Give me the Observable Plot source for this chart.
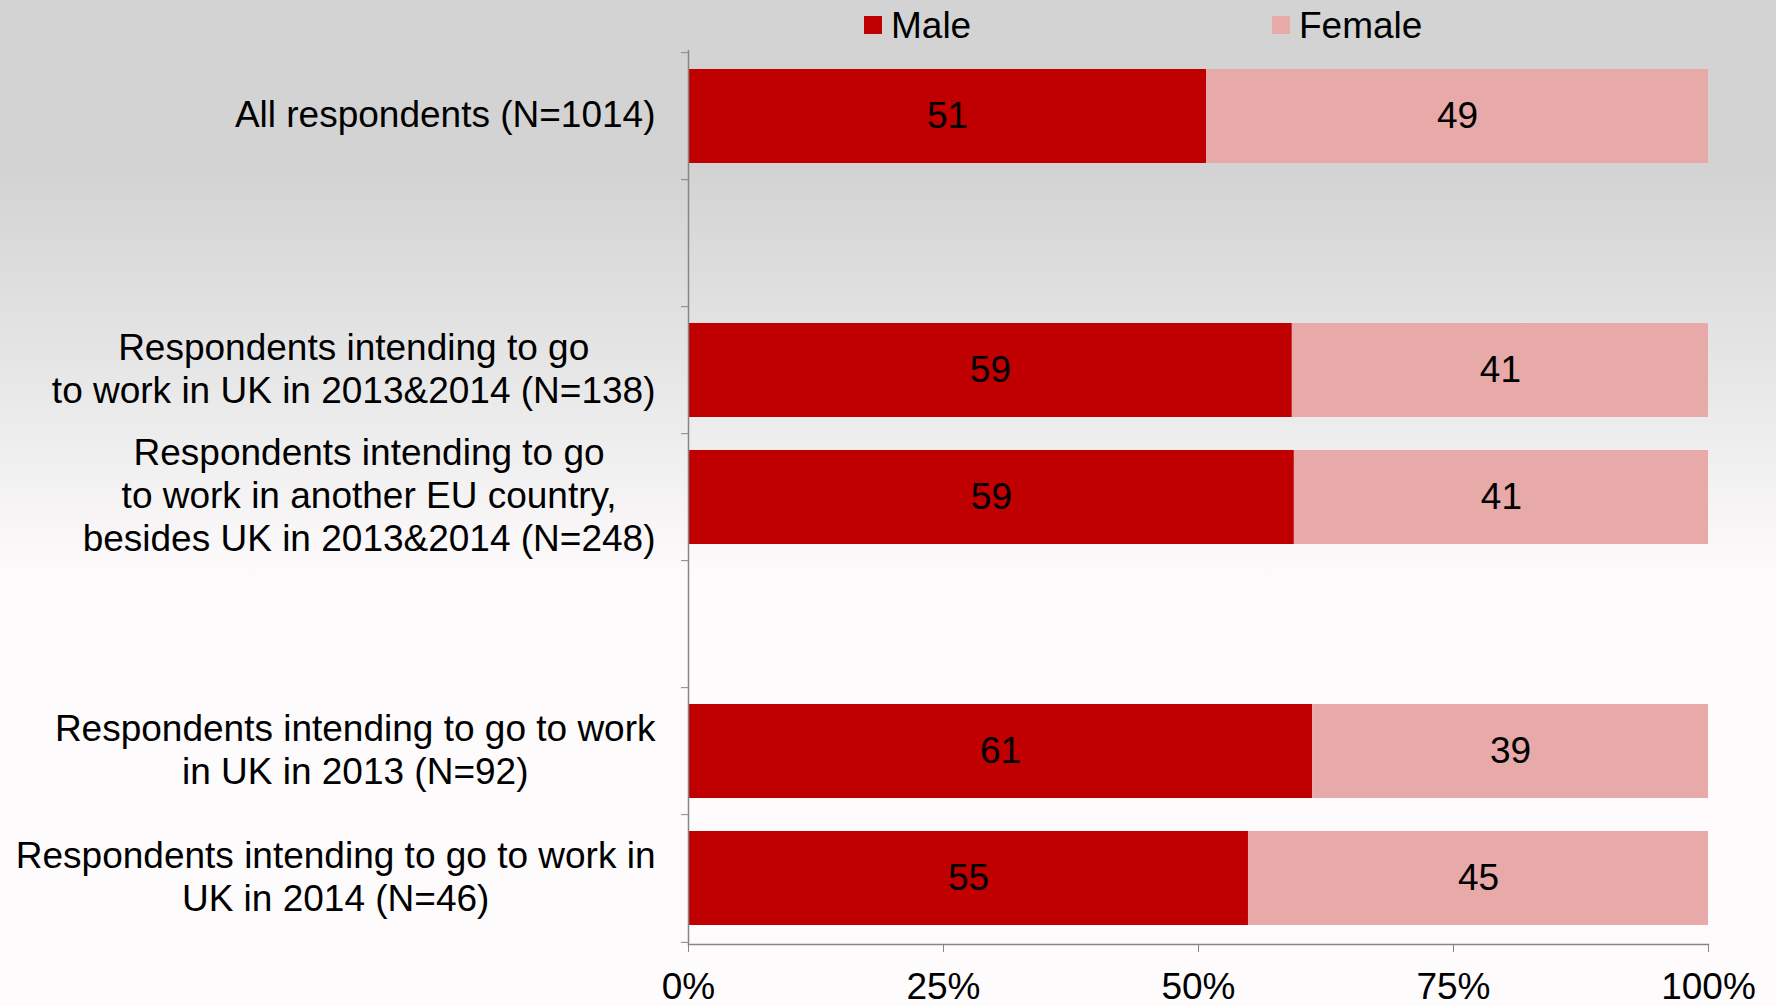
<!DOCTYPE html>
<html><head><meta charset="utf-8">
<script src="https://cdn.jsdelivr.net/npm/d3@7"></script>
<script src="https://cdn.jsdelivr.net/npm/@observablehq/plot@0.6"></script>
<style>
html,body{margin:0;padding:0}
body{width:1776px;height:1006px;overflow:hidden;font-family:"Liberation Sans",Arial,sans-serif;
background:linear-gradient(to bottom,#d3d3d3 0px,#d3d3d3 170px,#fdfbfc 580px,#fdfbfc 1006px);}
#legend{position:relative;height:50px;}
.item{position:absolute;top:0;height:50px;display:flex;align-items:center;font-size:37px;color:#000;line-height:1}
.sw{width:18px;height:18px;margin-right:9px}
#chart svg{display:block}
</style></head><body>
<div id="legend"></div><div id="chart"></div>
<script>
// ---- data ----
const slots = ["all", "gap1", "uk1314", "eu1314", "gap2", "uk13", "uk14"];
const categoryLabels = [
  "All respondents (N=1014)",
  "",
  "Respondents intending to go\nto work in UK in 2013&2014 (N=138)",
  "Respondents intending to go\nto work in another EU country,\nbesides UK in 2013&2014 (N=248)",
  "",
  "Respondents intending to go to work\nin UK in 2013 (N=92)",
  "Respondents intending to go to work in\nUK in 2014 (N=46)"
];
const maleShare = [50.8, null, 59.2, 59.4, null, 61.2, 54.9];
const femaleShare = [49.2, null, 40.8, 40.6, null, 38.8, 45.1];
const seriesNames = ["Male", "Female"];
const seriesColors = ["#C00000", "#E8A9A9"];
const xTicks = [0, 25, 50, 75, 100];

// ---- legend ----
const legend = document.getElementById("legend");
const legendLeft = [864, 1272];
seriesNames.forEach((n, i) => {
  const it = document.createElement("div");
  it.className = "item";
  it.style.left = legendLeft[i] + "px";
  it.innerHTML = `<span class="sw" style="background:${seriesColors[i]}"></span><span>${n}</span>`;
  legend.appendChild(it);
});

// ---- table ----
const rows = [];
slots.forEach((s, i) => {
  if (maleShare[i] != null) {
    rows.push({slot: s, sex: "Male", value: maleShare[i]});
    rows.push({slot: s, sex: "Female", value: femaleShare[i]});
  }
});

const W = 1776, H = 956, mT = 0, mB = 62, mL = 688, mR = 68;
const step = (H - mT - mB) / slots.length;
const FS = 37;
const ctx = document.createElement("canvas").getContext("2d");
ctx.font = `${FS}px "Liberation Sans", Arial, sans-serif`;

const labelMarks = slots.map((s, i) => {
  if (!categoryLabels[i]) return null;
  const w = Math.max(...categoryLabels[i].split("\n").map(l => ctx.measureText(l).width));
  return Plot.text([s], {
    y: d => d, text: () => categoryLabels[i], frameAnchor: "left",
    textAnchor: "middle", dx: -(33 + w / 2), dy: -3, lineHeight: 1.16, fontSize: FS, fill: "#000"
  });
}).filter(Boolean);

const chart = Plot.plot({
  width: W, height: H,
  marginTop: mT, marginBottom: mB, marginLeft: mL, marginRight: mR,
  style: {background: "transparent", fontFamily: '"Liberation Sans", Arial, sans-serif', fontSize: FS + "px", overflow: "visible"},
  x: {domain: [0, 100], label: null},
  y: {domain: slots, paddingInner: 0.26, paddingOuter: 0.13, label: null},
  color: {domain: seriesNames, range: seriesColors},
  marks: [
    Plot.barX(rows, Plot.stackX({x: "value", y: "slot", fill: "sex", order: seriesNames})),
    Plot.text(rows, Plot.stackX({x: "value", y: "slot", z: "sex", order: seriesNames,
      text: d => String(Math.round(d.value)), fontSize: FS, fill: "#000"})),
    Plot.ruleX([0], {stroke: "#868686", strokeWidth: 1.5}),
    Plot.frame({anchor: "bottom", stroke: "#868686", strokeWidth: 1.5}),
    Plot.axisX({ticks: xTicks, tickFormat: d => d + "%", tickSize: 8, tickPadding: 20,
      fontSize: FS, stroke: "#868686", fill: "#000"}),
    Plot.axisY({ticks: slots, tickFormat: () => "", tickSize: 7, dy: -step / 2, stroke: "#868686"}),
    Plot.axisY({ticks: [slots[slots.length - 1]], tickFormat: () => "", tickSize: 7, dy: step / 2, stroke: "#868686"}),
    ...labelMarks
  ]
});
document.getElementById("chart").appendChild(chart);
</script></body></html>
